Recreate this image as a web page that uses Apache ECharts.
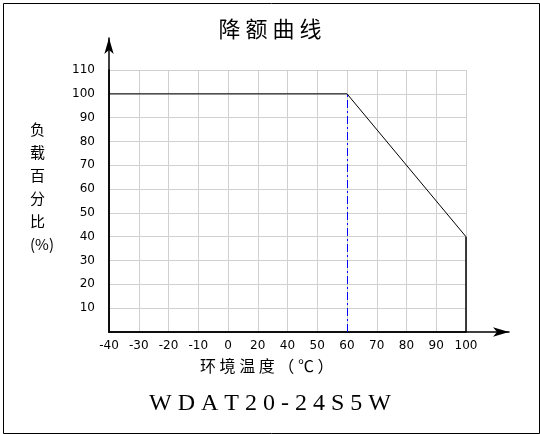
<!DOCTYPE html>
<html>
<head>
<meta charset="UTF-8">
<script src="https://cdn.jsdelivr.net/npm/echarts@6/dist/echarts.min.js"></script>
<style>
    html, body {margin: 0; padding: 0; background: #fff;}
    #main {width: 540px; height: 434px;}
</style>
</head>
<body>
<div id="main"></div>
<script>
    // 横轴刻度（原图标注不均匀，照原样）
    var xLabels = ['-40', '-30', '-20', '-10', '0', '20', '40', '50', '60', '70', '80', '90', '100'];
    // 负载百分比，空值之间直线连接
    var loadValues = [100, null, null, null, null, null, null, null, 100, null, null, null, 40];
    var yMax = 110, yStep = 10;

    var myChart = echarts.init(document.getElementById('main'));
    var black = '#000';
    var blueDash = {color: '#0000ff', type: [8, 3, 2, 3], width: 1};
    var blackSolid = {color: black, type: 'solid', width: 1.5};
    var option = {
        animation: false,
        backgroundColor: '#fff',
        grid: [
            {left: 109, right: 74, top: 70, bottom: 102},
            {left: 109, right: 31, top: 38, bottom: 102}
        ],
        xAxis: [
            {
                type: 'category', gridIndex: 0, data: xLabels, boundaryGap: false,
                axisLine: {lineStyle: {color: black, width: 1.5}},
                axisTick: {show: false},
                axisLabel: {color: black, fontSize: 12, fontFamily: 'DejaVu Sans', margin: 8, interval: 0},
                splitLine: {show: true, lineStyle: {color: '#d0d0d0'}}
            },
            {
                type: 'value', gridIndex: 1, min: 0, max: 1,
                axisLine: {lineStyle: {color: black, width: 1.5}, symbol: ['none', 'arrow'], symbolSize: [7, 16]},
                axisTick: {show: false}, axisLabel: {show: false}, splitLine: {show: false}
            }
        ],
        yAxis: [
            {
                type: 'value', gridIndex: 0, min: 0, max: yMax, interval: yStep,
                axisLine: {show: true, lineStyle: {color: black, width: 1.5}},
                axisTick: {show: false},
                axisLabel: {color: black, fontSize: 12, fontFamily: 'DejaVu Sans', margin: 14,
                    formatter: function (v) { return v === 0 ? '' : v; }},
                splitLine: {show: true, lineStyle: {color: '#d0d0d0'}}
            },
            {
                type: 'value', gridIndex: 1, min: 0, max: 1,
                axisLine: {show: true, lineStyle: {color: black, width: 1.5}, symbol: ['none', 'arrow'], symbolSize: [7, 16]},
                axisTick: {show: false}, axisLabel: {show: false}, splitLine: {show: false}
            }
        ],
        series: [
            {
                type: 'line', xAxisIndex: 0, yAxisIndex: 0,
                data: loadValues, connectNulls: true, symbol: 'none',
                lineStyle: {color: black, width: 1},
                markLine: {
                    symbol: 'none', silent: true, label: {show: false},
                    data: [
                        [{coord: ['60', 0], lineStyle: blueDash}, {coord: ['60', 100], lineStyle: blueDash}],
                        [{coord: ['100', 0], lineStyle: blackSolid}, {coord: ['100', 40], lineStyle: blackSolid}]
                    ]
                }
            }
        ],
        graphic: [
            {type: 'rect', left: 1, top: 1, shape: {width: 536, height: 430},
                style: {fill: 'none', stroke: '#000', lineWidth: 1}},
            {type: 'text', left: 'center', top: 18,
                style: {text: '降 额 曲 线', fill: black, fontSize: 22, fontFamily: 'Noto Sans CJK SC'}},
            {type: 'text', left: 30, top: 118,
                style: {text: '负\n载\n百\n分\n比\n(%)', fill: black, fontSize: 15, lineHeight: 23,
                    align: 'center', fontFamily: 'Noto Sans CJK SC'}},
            {type: 'text', left: 200, top: 358,
                style: {text: '环 境 温 度 （ ℃ ）', fill: black, fontSize: 16, fontFamily: 'Noto Sans CJK SC'}},
            {type: 'text', left: 'center', top: 392,
                style: {text: 'W D A T 2 0 - 2 4 S 5 W', fill: black, fontSize: 24, fontFamily: 'Liberation Serif'}}
        ]
    };
    myChart.setOption(option);
</script>
</body>
</html>
